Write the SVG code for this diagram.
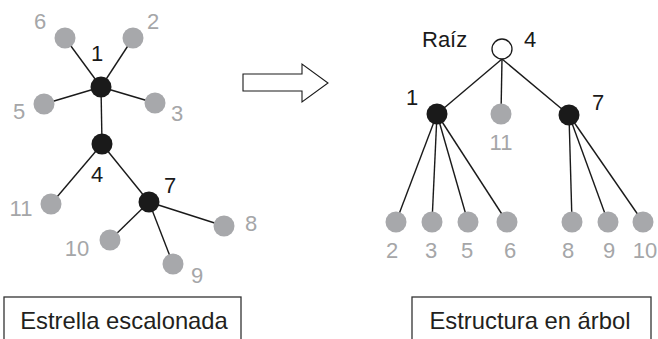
<svg xmlns="http://www.w3.org/2000/svg" width="658" height="339" viewBox="0 0 658 339">
<style>
.e{stroke:#1a1a1a;stroke-width:1.4;fill:none}
.g{fill:#a7a8ab}
.b{fill:#1a1a1a}
.o{fill:#fff;stroke:#1a1a1a;stroke-width:1.3}
text{font-family:"Liberation Sans",Arial,sans-serif;text-anchor:middle}
.lg{fill:#a5a6a8;font-size:22px}
.lb{fill:#1a1a1a;font-size:22px}
.box{fill:#fff;stroke:#333;stroke-width:1.3}
.bt{fill:#231f20;font-size:23.8px}
</style>
<rect width="658" height="339" fill="#fff"/>
<g id="connectors">
  <line class="e" x1="101" y1="87" x2="65" y2="38"/>
  <line class="e" x1="101" y1="87" x2="133" y2="38"/>
  <line class="e" x1="101" y1="87" x2="44" y2="104"/>
  <line class="e" x1="101" y1="87" x2="155" y2="103"/>
  <line class="e" x1="101" y1="87" x2="102" y2="144"/>
  <line class="e" x1="102" y1="144" x2="51" y2="204"/>
  <line class="e" x1="102" y1="144" x2="149" y2="202"/>
  <line class="e" x1="149" y1="202" x2="224" y2="226"/>
  <line class="e" x1="149" y1="202" x2="110" y2="240"/>
  <line class="e" x1="149" y1="202" x2="173" y2="264"/>
  <line class="e" x1="502" y1="59" x2="437" y2="114"/>
  <line class="e" x1="502" y1="59" x2="501" y2="114"/>
  <line class="e" x1="502" y1="59" x2="569" y2="115"/>
  <line class="e" x1="437" y1="114" x2="396" y2="222"/>
  <line class="e" x1="437" y1="114" x2="432" y2="222"/>
  <line class="e" x1="437" y1="114" x2="468" y2="222"/>
  <line class="e" x1="437" y1="114" x2="507" y2="222"/>
  <line class="e" x1="569" y1="115" x2="572" y2="222"/>
  <line class="e" x1="569" y1="115" x2="608" y2="222"/>
  <line class="e" x1="569" y1="115" x2="643" y2="222"/>
</g>
<g id="star">
  <g id="s1"><circle class="b" cx="101" cy="87" r="10.5"/><text class="lb" x="97" y="61">1</text></g>
  <g id="s2"><circle class="g" cx="133" cy="38" r="10.5"/><text class="lg" x="153" y="29">2</text></g>
  <g id="s3"><circle class="g" cx="155" cy="103" r="10.5"/><text class="lg" x="177" y="121">3</text></g>
  <g id="s4"><circle class="b" cx="102" cy="144" r="10.5"/><text class="lb" x="97" y="182">4</text></g>
  <g id="s5"><circle class="g" cx="44" cy="104" r="10.5"/><text class="lg" x="19" y="119">5</text></g>
  <g id="s6"><circle class="g" cx="65" cy="38" r="10.5"/><text class="lg" x="40" y="29">6</text></g>
  <g id="s7"><circle class="b" cx="149" cy="202" r="10.5"/><text class="lb" x="170" y="193">7</text></g>
  <g id="s8"><circle class="g" cx="224" cy="226" r="10.5"/><text class="lg" x="251" y="231">8</text></g>
  <g id="s9"><circle class="g" cx="173" cy="264" r="10.5"/><text class="lg" x="197" y="283">9</text></g>
  <g id="s10"><circle class="g" cx="110" cy="240" r="10.5"/><text class="lg" x="77" y="256">10</text></g>
  <g id="s11"><circle class="g" cx="51" cy="204" r="10.5"/><text class="lg" x="21" y="216">11</text></g>
</g>
<g id="arrow">
  <polygon points="243,74 302,74 302,64 328,83 302,102 302,91 243,91" fill="#fff" stroke="#1a1a1a" stroke-width="1.1"/>
</g>
<g id="tree">
  <g id="t4"><circle class="o" cx="502" cy="49" r="10"/><text class="lb" x="422" y="46.5" style="text-anchor:start">Raíz</text><text class="lb" x="530" y="46.5">4</text></g>
  <g id="t1"><circle class="b" cx="437" cy="114" r="10.5"/><text class="lb" x="412" y="105">1</text></g>
  <g id="t11"><circle class="g" cx="501" cy="114" r="10.5"/><text class="lg" x="501" y="150">11</text></g>
  <g id="t7"><circle class="b" cx="569" cy="115" r="10.5"/><text class="lb" x="598" y="110">7</text></g>
  <g id="t2"><circle class="g" cx="396" cy="222" r="10.5"/><text class="lg" x="392" y="258">2</text></g>
  <g id="t3"><circle class="g" cx="432" cy="222" r="10.5"/><text class="lg" x="431" y="258">3</text></g>
  <g id="t5"><circle class="g" cx="468" cy="222" r="10.5"/><text class="lg" x="467" y="258">5</text></g>
  <g id="t6"><circle class="g" cx="507" cy="222" r="10.5"/><text class="lg" x="510" y="258">6</text></g>
  <g id="t8"><circle class="g" cx="572" cy="222" r="10.5"/><text class="lg" x="568" y="258">8</text></g>
  <g id="t9"><circle class="g" cx="608" cy="222" r="10.5"/><text class="lg" x="609" y="258">9</text></g>
  <g id="t10"><circle class="g" cx="643" cy="222" r="10.5"/><text class="lg" x="645" y="258">10</text></g>
</g>
<g id="label-left"><rect class="box" x="4" y="297" width="237" height="50"/><text class="bt" x="124" y="329">Estrella escalonada</text></g>
<g id="label-right"><rect class="box" x="412" y="297" width="239" height="50"/><text class="bt" x="530" y="329">Estructura en árbol</text></g>
</svg>
